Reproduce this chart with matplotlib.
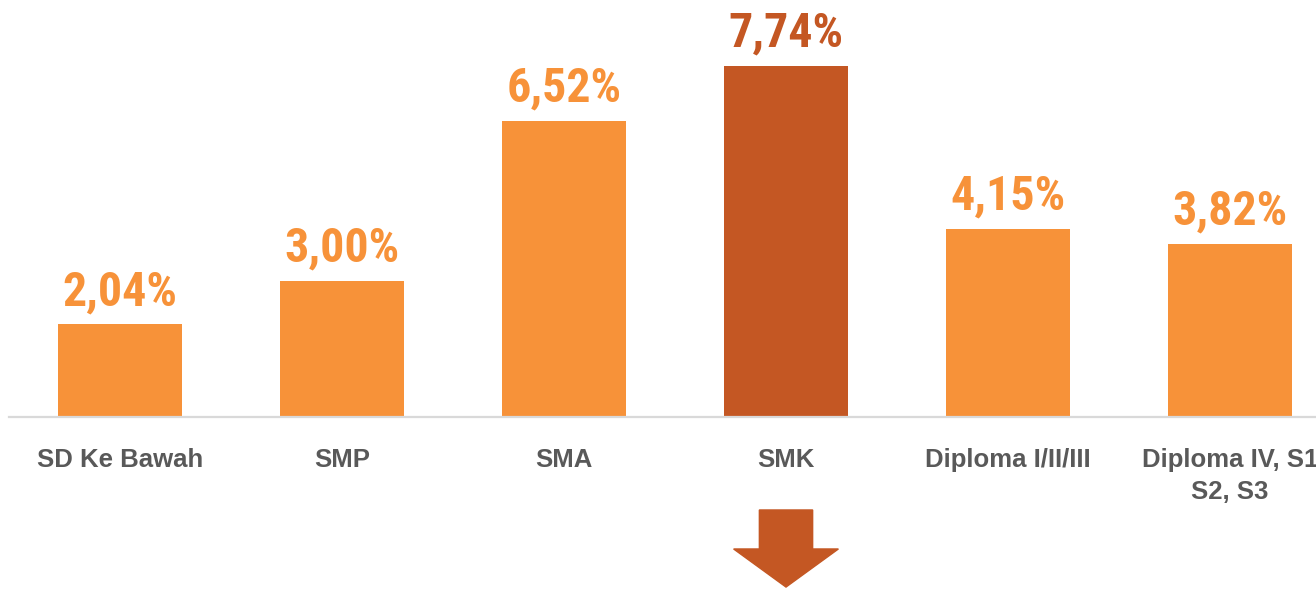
import numpy as np
import matplotlib
matplotlib.use("Agg")
import matplotlib.pyplot as plt
from matplotlib.patches import Polygon

categories = ["SD Ke Bawah", "SMP", "SMA", "SMK", "Diploma I/II/III", "Diploma IV, S1\nS2, S3"]
values = [2.04, 3.00, 6.52, 7.74, 4.15, 3.82]
value_labels = ["2,04%", "3,00%", "6,52%", "7,74%", "4,15%", "3,82%"]

orange = "#F79239"
dark = "#C45723"
grey_text = "#595959"

plt.rcParams['font.family'] = ['Liberation Sans', 'DejaVu Sans']

fig = plt.figure(figsize=(13.16, 5.89), dpi=100)
# axes stretch a bit past the right edge, as in the original crop
ax = fig.add_axes([9 / 1316, 1 - 417 / 589, 1332 / 1316, 417 / 589])
ax.set_xlim(-0.5, 5.5)
ax.set_ylim(0, 417 / 45.35)

x = np.arange(len(categories))
imax = int(np.argmax(values))
colors = [dark if i == imax else orange for i in range(len(values))]
ax.bar(x, values, width=0.555, color=colors)

for i, v in enumerate(values):
    ax.annotate(value_labels[i], (x[i], v), xytext=(0, 14), textcoords="offset points",
                ha="center", va="baseline", fontsize=34.5, fontweight="bold", color=colors[i],
                family=['Roboto Condensed', 'Liberation Sans'])

for s in ["top", "right", "left"]:
    ax.spines[s].set_visible(False)
ax.spines["bottom"].set_color("#D9D9D9")
ax.spines["bottom"].set_linewidth(1.6)
ax.set_yticks([])
ax.set_xticks(x)
ax.set_xticklabels(categories, fontsize=18.5, fontweight="bold", color=grey_text, linespacing=1.45)
ax.tick_params(axis="x", length=0, pad=22)

# down arrow under the highest bar
sw, hw = 0.12, 0.236
y0, y1, y2 = -2.05, -2.91, -3.75
cx = x[imax]
arrow = Polygon([(cx - sw, y0), (cx + sw, y0), (cx + sw, y1), (cx + hw, y1),
                 (cx, y2), (cx - hw, y1), (cx - sw, y1)],
                closed=True, color=dark, clip_on=False)
ax.add_patch(arrow)

fig.savefig("out.png", dpi=100)
